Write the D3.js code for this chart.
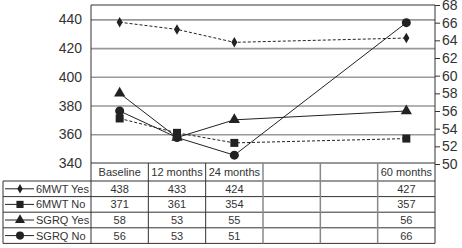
<!DOCTYPE html>
<html>
<head>
<meta charset="utf-8">
<script src="https://cdn.jsdelivr.net/npm/d3@7"></script>
<style>
  body { margin: 0; background: #fff; }
  text { font-family: "Liberation Sans", Arial, sans-serif; }
</style>
</head>
<body>
<div id="chart"></div>
<script>
const width = 462
const height = 248

// data
const periods = ["Baseline", "12 months", "24 months", "", "", "60 months"]
const mwtYes = [438, 433, 424, null, null, 427]
const mwtNo = [371, 361, 354, null, null, 357]
const sgrqYes = [58, 53, 55, null, null, 56]
const sgrqNo = [56, 53, 51, null, null, 66]
const leftTicks = [340, 360, 380, 400, 420, 440]
const rightTicks = [50, 52, 54, 56, 58, 60, 62, 64, 66, 68]

const plot = { left: 91, right: 435, top: 5, bottom: 163 }
const table = { headerBottom: 181, rowH: 15.6, legendLeft: 3 }

const svg = d3.select("#chart").append("svg").attr("width", width).attr("height", height)

const x = d3.scaleBand().domain(d3.range(periods.length)).range([plot.left, plot.right])
const yL = d3.scaleLinear().domain([340, 450]).range([plot.bottom, plot.top])
const yR = d3.scaleLinear().domain([50, 68]).range([plot.bottom + 1, plot.top])

// gridlines
svg.append("g")
    .attr("transform", `translate(${plot.left},0)`)
    .call(d3.axisLeft(yL).tickValues(leftTicks.slice(1)).tickSize(-(plot.right - plot.left)).tickFormat(""))
    .call(g => g.select(".domain").remove())
    .call(g => g.selectAll("line").attr("stroke", "#999").attr("stroke-width", 1.6))

// left axis labels
svg.append("g")
    .attr("transform", `translate(${plot.left},0)`)
    .call(d3.axisLeft(yL).tickValues(leftTicks).tickSize(0).tickPadding(9))
    .call(g => g.select(".domain").remove())
    .call(g => g.selectAll("text").attr("font-size", 14).attr("fill", "#333")
        .attr("font-family", "Liberation Sans, Arial, sans-serif"))

// right axis
svg.append("g")
    .attr("transform", `translate(${plot.right},0)`)
    .call(d3.axisRight(yR).tickValues(rightTicks).tickSize(5).tickPadding(2))
    .call(g => g.select(".domain").remove())
    .call(g => g.selectAll("line").attr("stroke", "#333"))
    .call(g => g.selectAll("text").attr("font-size", 14).attr("fill", "#333")
        .attr("font-family", "Liberation Sans, Arial, sans-serif"))

const series = [
    { name: "6MWT Yes", values: mwtYes, y: yL, dash: "3,2", symbol: d3.symbolDiamond, size: 32 },
    { name: "6MWT No", values: mwtNo, y: yL, dash: "3,2", symbol: d3.symbolSquare, size: 64 },
    { name: "SGRQ Yes", values: sgrqYes, y: yR, dash: null, symbol: d3.symbolTriangle, size: 55 },
    { name: "SGRQ No", values: sgrqNo, y: yR, dash: null, symbol: d3.symbolCircle, size: 64 }
]

const cx = i => x(i) + x.bandwidth() / 2

series.forEach(s => {
    const pts = s.values.map((v, i) => ({ i, v })).filter(d => d.v !== null)
    const line = d3.line().x(d => cx(d.i)).y(d => s.y(d.v))
    svg.append("path")
        .attr("d", line(pts))
        .attr("fill", "none")
        .attr("stroke", "#222")
        .attr("stroke-width", 1)
        .attr("stroke-dasharray", s.dash)
    svg.selectAll(null).data(pts).enter().append("path")
        .attr("d", d3.symbol().type(s.symbol).size(s.size))
        .attr("transform", d => `translate(${cx(d.i)},${s.y(d.v)})`)
        .attr("fill", "#222")
})

// table
const tbl = svg.append("g")
const rowTop = r => table.headerBottom + r * table.rowH
const tableBottom = rowTop(series.length)

// outer frame of plot + table
tbl.append("line").attr("x1", plot.left).attr("x2", plot.right).attr("y1", plot.top).attr("y2", plot.top)
tbl.append("line").attr("x1", plot.left).attr("x2", plot.left).attr("y1", plot.top).attr("y2", tableBottom)
tbl.append("line").attr("x1", plot.right).attr("x2", plot.right).attr("y1", plot.top).attr("y2", tableBottom)
tbl.append("line").attr("x1", plot.left).attr("x2", plot.right).attr("y1", plot.bottom).attr("y2", plot.bottom)
d3.range(series.length + 1).forEach(r => {
    tbl.append("line").attr("x1", table.legendLeft).attr("x2", plot.right).attr("y1", rowTop(r)).attr("y2", rowTop(r))
})
tbl.append("line").attr("x1", table.legendLeft).attr("x2", table.legendLeft).attr("y1", rowTop(0)).attr("y2", tableBottom)
periods.forEach((p, i) => {
    if (i === 0) return
    tbl.append("line").attr("x1", x(i)).attr("x2", x(i)).attr("y1", plot.bottom).attr("y2", tableBottom)
        .attr("stroke", p === "" || periods[i - 1] === "" ? "#888" : "#333")
        .attr("stroke-width", p === "" || periods[i - 1] === "" ? 1.5 : 1)
})
tbl.selectAll("line").filter(function () { return !this.getAttribute("stroke") })
    .attr("stroke", "#333").attr("stroke-width", 1)

// header labels
tbl.selectAll(null).data(periods).enter().append("text")
    .attr("x", (d, i) => cx(i))
    .attr("y", (plot.bottom + table.headerBottom) / 2 + 4)
    .attr("text-anchor", "middle")
    .attr("font-size", 11)
    .attr("fill", "#333")
    .text(d => d)

// rows
series.forEach((s, r) => {
    const ym = rowTop(r) + table.rowH / 2
    tbl.append("line").attr("x1", 5).attr("x2", 34).attr("y1", ym).attr("y2", ym)
        .attr("stroke", "#222").attr("stroke-width", 1)
    tbl.append("path")
        .attr("d", d3.symbol().type(s.symbol).size(s.size * 0.8))
        .attr("transform", `translate(20,${ym})`)
        .attr("fill", "#222")
    tbl.append("text").attr("x", 36).attr("y", ym + 4)
        .attr("font-size", 11).attr("fill", "#333").text(s.name)
    s.values.forEach((v, i) => {
        if (v === null) return
        tbl.append("text").attr("x", cx(i)).attr("y", ym + 4)
            .attr("text-anchor", "middle").attr("font-size", 11).attr("fill", "#333").text(v)
    })
})
</script>
</body>
</html>
